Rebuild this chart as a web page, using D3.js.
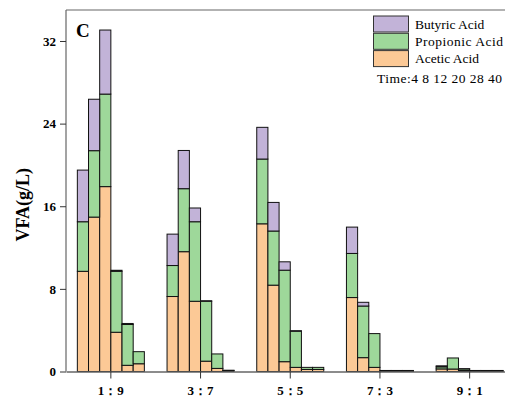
<!DOCTYPE html>
<html><head><meta charset="utf-8">
<script src="https://cdn.jsdelivr.net/npm/d3@7"></script>
<style>body{margin:0;background:#fff}svg{display:block}</style>
</head><body>
<svg id="c" width="505" height="401"></svg>
<script>
const categories = ["1：9","3：7","5：5","7：3","9：1"];
const times = [4,8,12,20,28,40];
// values per category, per time
const acetic = [
  [9.7,14.95,17.9,3.8,0.6,0.75],
  [7.26,11.6,6.8,1.0,0.3,0.1],
  [14.3,8.36,0.95,0.4,0.2,0.2],
  [7.16,1.34,0.4,0.05,0.05,0.05],
  [0.25,0.24,0.1,0.05,0.05,0.05]
];
const propionic = [
  [4.8,6.43,8.96,5.9,3.95,1.17],
  [3.0,6.1,7.7,5.8,1.4,0.02],
  [6.27,5.24,8.86,3.5,0.2,0.2],
  [4.27,5.0,3.27,0.05,0.05,0.05],
  [0.2,1.07,0.15,0.05,0.05,0.05]
];
const butyric = [
  [5.0,4.98,6.2,0.1,0.1,0.0],
  [3.04,3.7,1.33,0.05,0.0,0.0],
  [3.07,2.77,0.81,0.05,0.0,0.0],
  [2.55,0.36,0.0,0.0,0.0,0.0],
  [0.1,0.0,0.02,0.0,0.0,0.0]
];
const seriesNames = ["Acetic Acid","Propionic Acid","Butyric Acid"];
const seriesColors = ["#fcc996","#9ed89a","#c2b3d8"];
const yTicks = [0,8,16,24,32];

const svg = d3.select("#c");
const L = 66, R = 514.5, T = 10, B = 371.5;
const x = d3.scaleBand().domain(categories).range([L,R]).paddingInner(0.253).paddingOuter(0.1265);
const xi = d3.scaleBand().domain(times).range([0,x.bandwidth()]);
const y = d3.scaleLinear().domain([0,35]).range([B,T]);

// build stacked rows
const rows = [];
categories.forEach((c,ci)=>times.forEach((t,ti)=>{
  rows.push({cat:c,time:t,"Acetic Acid":acetic[ci][ti],"Propionic Acid":propionic[ci][ti],"Butyric Acid":butyric[ci][ti]});
}));
const stack = d3.stack().keys(seriesNames)(rows);

const g = svg.append("g");
stack.forEach((s,si)=>{
  g.selectAll(null).data(s).enter().append("rect")
    .attr("x",d=>x(d.data.cat)+xi(d.data.time))
    .attr("width",xi.bandwidth())
    .attr("y",d=>y(d[1]))
    .attr("height",d=>Math.max(0,y(d[0])-y(d[1])))
    .attr("fill",seriesColors[si])
    .attr("stroke","#111")
    .attr("stroke-width",1);
});

// frame top
svg.append("line").attr("x1",L).attr("x2",R).attr("y1",T).attr("y2",T).attr("stroke","#666").attr("stroke-width",1.2);

const font = "'Liberation Serif','Times New Roman',serif";
const xAxis = svg.append("g").attr("transform",`translate(0,${B})`)
  .call(d3.axisBottom(x).tickSize(7).tickSizeOuter(0));
xAxis.select(".domain").attr("stroke","#666").attr("stroke-width",1.4);
xAxis.selectAll(".tick line").attr("stroke","#333");
xAxis.selectAll(".tick text").attr("font-family",font).attr("font-weight","bold").attr("font-size",13).attr("fill","#000").attr("dy","1.05em");

const yAxis = svg.append("g").attr("transform",`translate(${L},0)`)
  .call(d3.axisLeft(y).tickValues(yTicks).tickSize(6).tickSizeOuter(0));
yAxis.select(".domain").attr("stroke","#666").attr("stroke-width",1.2).attr("d",`M0,${B}V${T}`);
yAxis.selectAll(".tick line").attr("stroke","#333");
yAxis.selectAll(".tick text").attr("font-family",font).attr("font-weight","bold").attr("font-size",13).attr("fill","#000").attr("x",-10);

svg.append("text").attr("transform",`translate(29,${(T+B)/2+14}) rotate(-90)`)
  .attr("text-anchor","middle").attr("font-family",font).attr("font-weight","bold").attr("font-size",18).text("VFA(g/L)");

svg.append("text").attr("x",76).attr("y",37).attr("font-family",font).attr("font-weight","bold").attr("font-size",19).text("C");

// legend
const legOrder = [2,1,0];
const legLen = [null,88,null];
legOrder.forEach((si,i)=>{
  svg.append("rect").attr("x",373.5).attr("y",16+i*17.3).attr("width",35).attr("height",16)
    .attr("fill",seriesColors[si]).attr("stroke","#333").attr("stroke-width",1);
  const t = svg.append("text").attr("x",415).attr("y",28.5+i*17.3).attr("font-family",font).attr("font-size",13.5).text(seriesNames[si]);
  if (legLen[i]) t.attr("textLength",legLen[i]).attr("lengthAdjust","spacing");
});
svg.append("text").attr("x",377).attr("y",83).attr("font-family",font).attr("font-size",13.5)
  .attr("textLength",125).attr("lengthAdjust","spacing").text("Time:"+times.join(" "));
</script>
</body></html>
